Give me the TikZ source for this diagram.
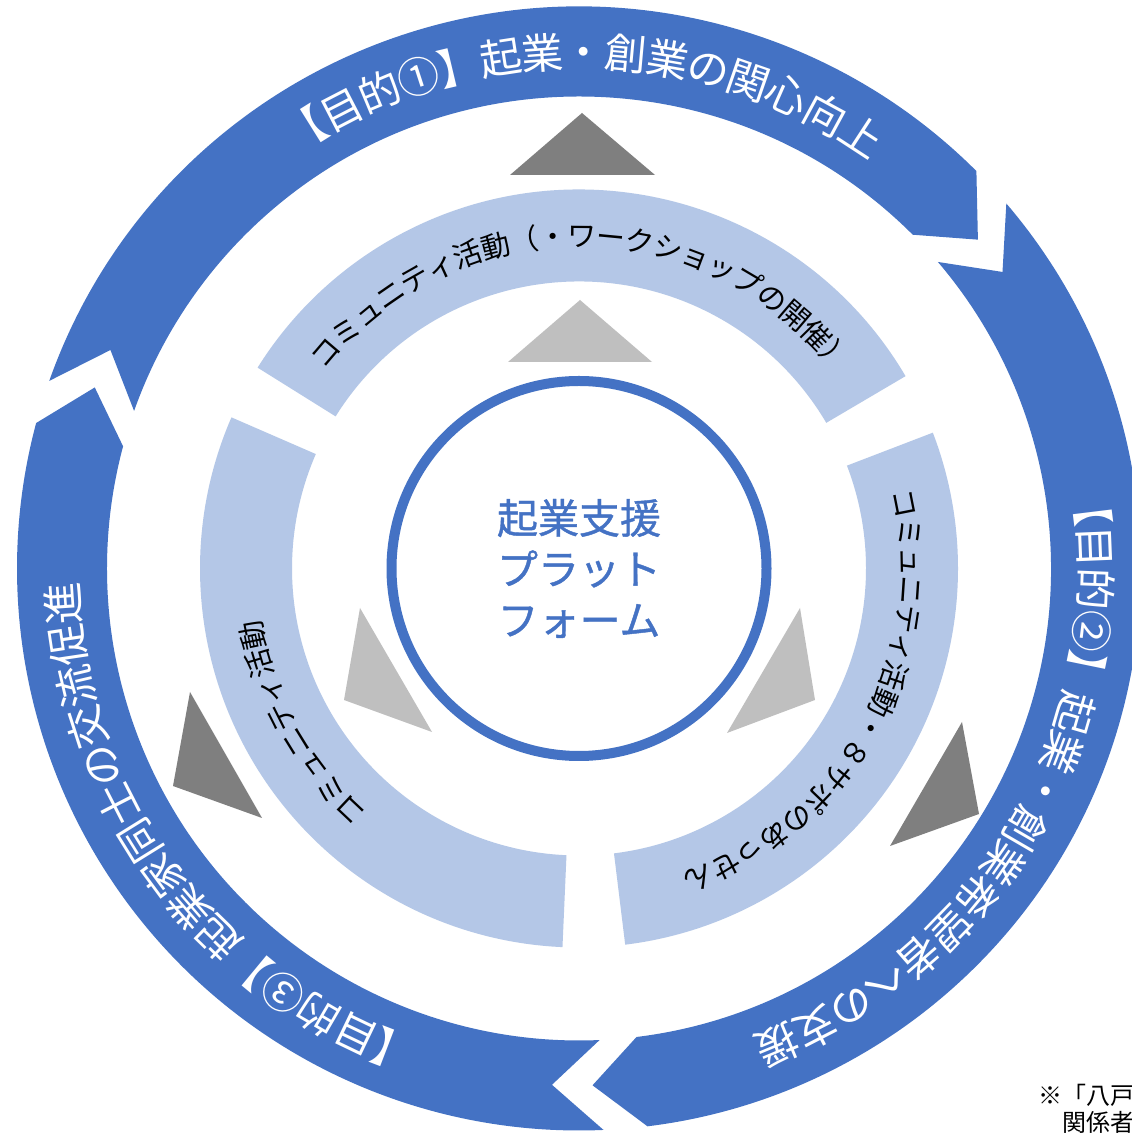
\documentclass[tikz,border=0pt]{standalone}
\usepackage{fontspec}
\newfontfamily\cjk{Noto Sans CJK JP}
\newfontfamily\cjkhub[FakeBold=1]{Noto Sans CJK JP}
\usetikzlibrary{calc}
\definecolor{obl}{HTML}{4472C4}
\definecolor{ibl}{HTML}{B4C7E7}
\definecolor{dgr}{HTML}{7F7F7F}
\definecolor{lgr}{HTML}{BFBFBF}

% outer circular arrow: #1 tail angle, #2 head angle (clockwise)
\newcommand\myoutarrow[2]{%
  \fill[obl] ($(C)+(#1:281pt)$) arc[start angle=#1, end angle=#2, radius=281pt]
     -- ($(C)+({#2-5.5}:258.5pt)$) -- ($(C)+(#2:236pt)$)
     arc[start angle=#2, end angle=#1, radius=236pt]
     -- ($(C)+({#1-5.5}:258.5pt)$) -- cycle;
}
% inner ring sector
\newcommand\myringseg[2]{%
  \fill[ibl] ($(C)+(#1:189.5pt)$) arc[start angle=#1, end angle=#2, radius=189.5pt]
     -- ($(C)+(#2:143.5pt)$) arc[start angle=#2, end angle=#1, radius=143.5pt] -- cycle;
}
% text along circle: #1 name prefix, #2 style, #3 radius, #4 start angle, #5 step, #6 chars
\newcommand\myarctext[6]{%
  \foreach \ch [count=\i from 0] in {#6}{%
    \pgfmathsetmacro\ang{#4+#5*\i}%
    \node[#2, rotate=\ang-90] (#1\i) at ($(C)+(\ang:#3)$) {\ch};
  }%
}

\begin{document}
\begin{tikzpicture}[x=0.5pt,y=0.5pt,
  otext/.style={font=\cjk\fontsize{21}{21}\selectfont, text=white, inner sep=0pt,
                text height=18.5pt, text depth=2.5pt},
  itext/.style={font=\cjk\fontsize{14.5}{14.5}\selectfont, text=black, inner sep=0pt,
                text height=12.8pt, text depth=1.7pt},
  darktri/.style={fill=dgr},
  lighttri/.style={fill=lgr},
  note/.style={font=\cjk\fontsize{12}{12}\selectfont, text=black, inner sep=0pt, anchor=west},
]
\useasboundingbox (0,0) rectangle (1131,1135);
\fill[white] (0,0) rectangle (1131,1135);
\coordinate (C) at (579,566.5);

% outer arrows
\myoutarrow{160.5}{45}
\myoutarrow{40.5}{-83}
\myoutarrow{272.5}{165}

% inner ring
\myringseg{30.5}{148}
\myringseg{156.5}{267.5}
\myringseg{-83}{21}

% dark triangles
\fill[darktri] (582,1022) -- (510,960) -- (655,960) -- cycle;
\fill[darktri] (962,413) -- (979,321) -- (890,289) -- cycle;
\fill[darktri] (190,443) -- (173,349) -- (262,317) -- cycle;
% light triangles
\fill[lighttri] (580,835) -- (508,773) -- (652,773) -- cycle;
\fill[lighttri] (800,527) -- (815,435) -- (727,402) -- cycle;
\fill[lighttri] (360,527) -- (344,435) -- (432,403) -- cycle;

% central circle
\node[draw=obl, line width=5pt, circle, minimum size=187.5pt, inner sep=0pt,
      align=center, text=obl, font=\cjkhub\fontsize{20.5}{25.5}\selectfont] (hub) at (C)
      {起業支援\\プラット\\フォーム};

% outer texts
\myarctext{oa}{otext}{258.5pt}{122}{-4.65}{【,目,的,①,】,起,業,・,創,業,の,関,心,向,上}
\myarctext{ob}{otext}{258.5pt}{7}{-4.65}{【,目,的,②,】,起,業,・,創,業,希,望,者,へ,の,支,援}
\myarctext{oc}{otext}{258.5pt}{249}{-4.65}{【,目,的,③,】,起,業,家,同,士,の,交,流,促,進}

% inner texts
\myarctext{ia}{itext}{166.5pt}{139.5}{-5}{コ,ミ,ュ,ニ,テ,ィ,活,動,（,・,ワ,ー,ク,シ,ョ,ッ,プ,の,開,催,）}
\myarctext{ib}{itext}{166.5pt}{11.2}{-5}{コ,ミ,ュ,ニ,テ,ィ,活,動,・,８,サ,ポ,の,あ,っ,せ,ん}
\myarctext{ic}{itext}{166.5pt}{226.65}{-5}{コ,ミ,ュ,ニ,テ,ィ,活,動}

% note (cut off at the edge)
\node[note] (note1) at (1038,40) {※「八戸};
\node[note] (note2) at (1062,13) {関係者};
\end{tikzpicture}
\end{document}
